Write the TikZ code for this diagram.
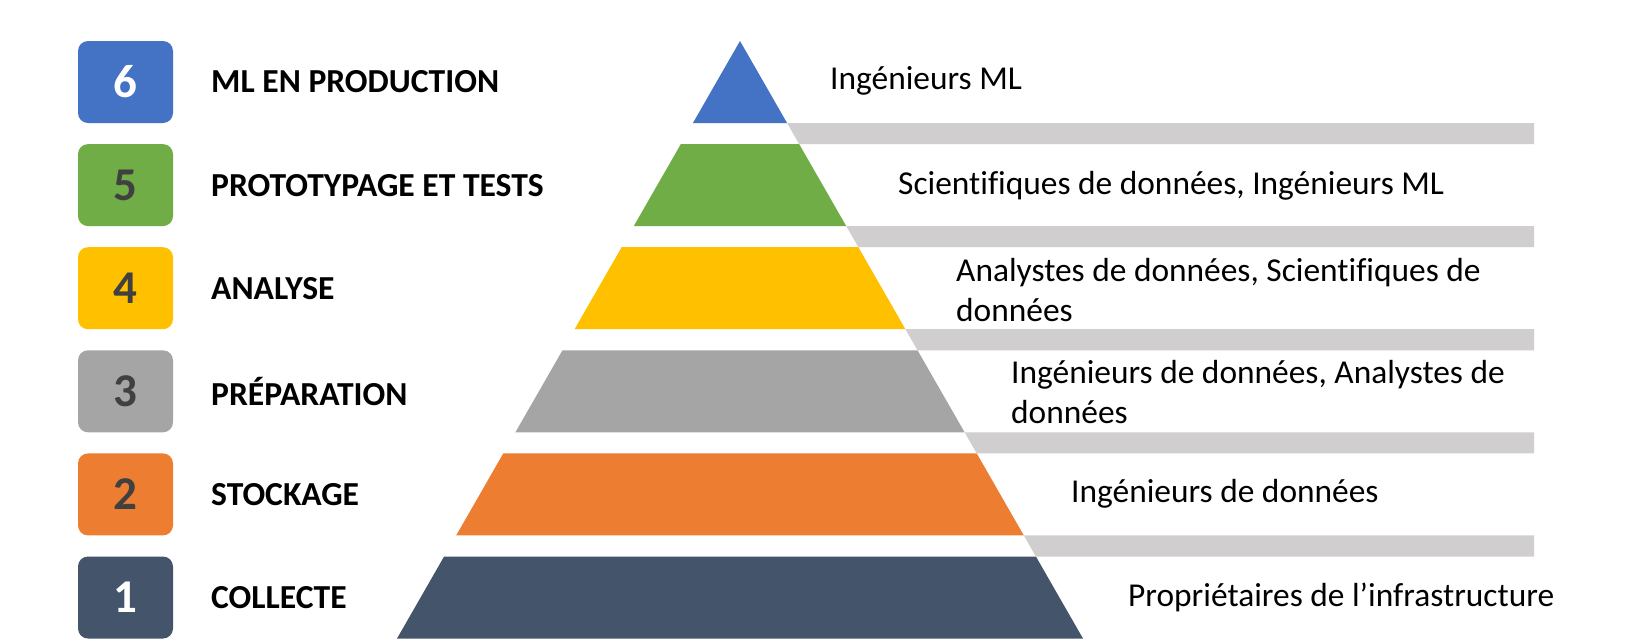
\documentclass[tikz,border=0pt]{standalone}
\usepackage{fontspec}
\setmainfont{Carlito}[Ligatures=CommonOff]
\definecolor{cA}{HTML}{44546A}
\definecolor{cB}{HTML}{ED7D31}
\definecolor{cC}{HTML}{A5A5A5}
\definecolor{cD}{HTML}{FFC000}
\definecolor{cE}{HTML}{70AD47}
\definecolor{cF}{HTML}{4472C4}
\definecolor{barc}{HTML}{D0CECE}
\definecolor{numdark}{HTML}{404040}
\begin{document}
\begin{tikzpicture}[x=1pt,y=-1pt,
  numbox/.style={minimum width=95pt,minimum height=82pt,inner sep=0pt,rounded corners=10pt,
    font=\fontsize{47}{50}\selectfont\bfseries},
  stagelbl/.style={anchor=west,inner sep=0pt,font=\fontsize{33.6}{38}\selectfont\bfseries,text=black},
  rolelbl/.style={anchor=west,inner sep=0pt,align=left,font=\fontsize{33.4}{39.5}\selectfont,text=black}]
\useasboundingbox[fill=white] (0,0) rectangle (1630,640);
% pyramid bands
\foreach \k/\col in {1/cA,2/cB,3/cC,4/cD,5/cE,6/cF}{
  \pgfmathsetmacro\bb{638.5-103.1*(\k-1)}
  \pgfmathsetmacro\tt{\bb-82}
  \fill[\col] ({740-0.574*(\bb-41)},\bb) -- ({740+0.574*(\bb-41)},\bb)
    -- ({740+0.574*(\tt-41)},\tt) -- ({740-0.574*(\tt-41)},\tt) -- cycle;
}
% grey bars
\foreach \k in {2,...,6}{
  \pgfmathsetmacro\bb{638.5-103.1*(\k-1)}
  \pgfmathsetmacro\nn{\bb+21.1}
  \fill[barc] ({740+0.574*(\bb-41)},\bb) -- (1534,\bb) -- (1534,\nn)
    -- ({740+0.574*(\nn-41)},\nn) -- cycle;
}
% number boxes
\node[numbox,fill=cF,text=white]   (n6) at (125.5,82)    {6};
\node[numbox,fill=cE,text=numdark] (n5) at (125.5,185.1) {5};
\node[numbox,fill=cD,text=numdark] (n4) at (125.5,288.2) {4};
\node[numbox,fill=cC,text=numdark] (n3) at (125.5,391.3) {3};
\node[numbox,fill=cB,text=numdark] (n2) at (125.5,494.4) {2};
\node[numbox,fill=cA,text=white]   (n1) at (125.5,597.5) {1};
% stage labels
\node[stagelbl] (s6) at (211,82)    {ML EN PRODUCTION};
\node[stagelbl] (s5) at (211,185.1) {PROTOTYPAGE ET TESTS};
\node[stagelbl] (s4) at (211,288.2) {ANALYSE};
\node[stagelbl] (s3) at (211,391.3) {PRÉPARATION};
\node[stagelbl] (s2) at (211,494.4) {STOCKAGE};
\node[stagelbl] (s1) at (211,597.5) {COLLECTE};
% role labels
\node[rolelbl] (r6) at (830,81)    {Ingénieurs ML};
\node[rolelbl] (r5) at (898,186)   {Scientifiques de données, Ingénieurs ML};
\node[rolelbl] (r4) at (956,290)   {Analystes de données, Scientifiques de\\données};
\node[rolelbl] (r3) at (1011,392)  {Ingénieurs de données, Analystes de\\données};
\node[rolelbl] (r2) at (1071,494)  {Ingénieurs de données};
\node[rolelbl] (r1) at (1128,597)  {Propriétaires de l’infrastructure};
\end{tikzpicture}
\end{document}
